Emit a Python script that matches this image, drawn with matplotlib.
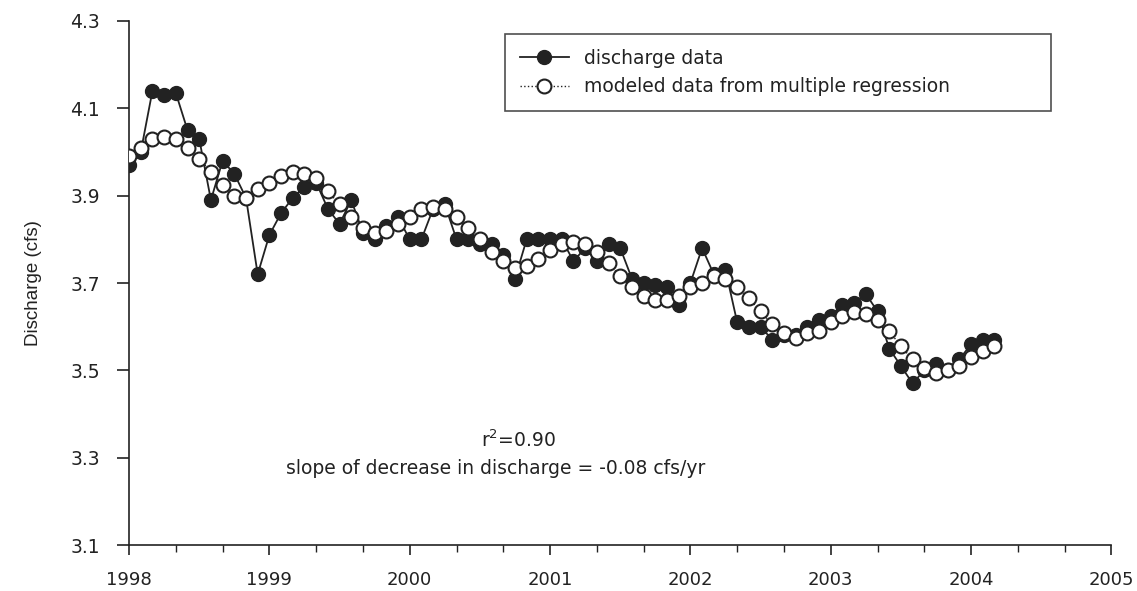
import matplotlib.pyplot as plt
import numpy as np

# datos mensuales, ene-1998 a mar-2004
discharge = [3.97, 4.00, 4.14, 4.13, 4.135, 4.05, 4.03, 3.89, 3.98, 3.95, 3.895, 3.72,
             3.81, 3.86, 3.895, 3.92, 3.93, 3.87, 3.835, 3.89, 3.815, 3.80, 3.83, 3.85,
             3.80, 3.80, 3.87, 3.88, 3.80, 3.80, 3.79, 3.79, 3.765, 3.71, 3.80, 3.80,
             3.80, 3.80, 3.75, 3.78, 3.75, 3.79, 3.78, 3.71, 3.70, 3.695, 3.69, 3.65,
             3.70, 3.78, 3.72, 3.73, 3.61, 3.60, 3.60, 3.57, 3.58, 3.58, 3.60, 3.615,
             3.625, 3.65, 3.655, 3.675, 3.635, 3.55, 3.51, 3.47, 3.50, 3.515, 3.50, 3.525,
             3.56, 3.57, 3.57]
modeled = [3.99, 4.01, 4.03, 4.035, 4.03, 4.01, 3.985, 3.955, 3.925, 3.90, 3.895, 3.915,
           3.93, 3.945, 3.955, 3.95, 3.94, 3.91, 3.88, 3.85, 3.825, 3.815, 3.82, 3.835,
           3.85, 3.87, 3.875, 3.87, 3.85, 3.825, 3.80, 3.77, 3.75, 3.735, 3.74, 3.755,
           3.775, 3.79, 3.795, 3.79, 3.77, 3.745, 3.715, 3.69, 3.67, 3.66, 3.66, 3.67,
           3.69, 3.70, 3.715, 3.71, 3.69, 3.665, 3.635, 3.605, 3.585, 3.575, 3.585, 3.59,
           3.61, 3.625, 3.633, 3.63, 3.615, 3.59, 3.555, 3.525, 3.505, 3.495, 3.50, 3.51,
           3.53, 3.545, 3.555]
start_year = 1998
year_ticks = [1998, 1999, 2000, 2001, 2002, 2003, 2004, 2005]
y_ticks = [3.1, 3.3, 3.5, 3.7, 3.9, 4.1, 4.3]

tt = start_year + np.arange(len(discharge)) / 12  # tiempo en años decimales

plt.rcParams['font.family'] = 'DejaVu Sans'

fig = plt.figure(figsize=(11.37, 5.91), dpi=100)
ax = fig.add_axes([0.1135, 0.0778, 0.864, 0.8867])

ax.plot(tt, discharge, color='#222222', lw=1.3, marker='o', ms=10,
        mfc='#222222', mec='#222222', label='discharge data', zorder=2)
ax.plot(tt, modeled, color='#222222', lw=1.0, ls=':', marker='o', ms=10,
        mfc='white', mec='#222222', mew=1.5,
        label='modeled data from multiple regression', zorder=3)

ax.set_xlim(1998, 2005)
ax.set_ylim(3.1, 4.3)
ax.set_xticks(year_ticks)
ax.set_xticklabels([str(y) for y in year_ticks])
ax.set_xticks(np.arange(1998, 2005.01, 1/3), minor=True)
ax.set_yticks(y_ticks)
ax.set_yticklabels(['{:.1f}'.format(v) for v in y_ticks])

for s in ['top', 'right']:
    ax.spines[s].set_visible(False)
for s in ['left', 'bottom']:
    ax.spines[s].set_linewidth(1.2)
    ax.spines[s].set_color('#222222')

ax.tick_params(axis='y', direction='out', length=9, width=1.2, pad=12,
               labelsize=13.5, colors='#222222')
ax.tick_params(axis='x', which='major', direction='out', length=7, width=1.2,
               pad=12, labelsize=13, colors='#222222')
ax.tick_params(axis='x', which='minor', direction='out', length=5, width=1.0,
               colors='#222222')

ax.set_ylabel('Discharge (cfs)', fontsize=13.5, family='Liberation Sans',
              color='#222222', labelpad=20)

# leyenda expandida al ancho del recuadro original
leg = ax.legend(loc='upper left', bbox_to_anchor=(0.373, 0.993, 0.575, 0.0),
                mode='expand', fontsize=13.5, frameon=True, fancybox=False,
                edgecolor='#222222', handlelength=2.6, borderpad=0.8,
                labelspacing=0.5)
leg.get_frame().set_linewidth(1.2)
for t in leg.get_texts():
    t.set_color('#222222')

ax.text(0.396, 0.200, 'r$^2$=0.90', transform=ax.transAxes, ha='center',
        va='center', fontsize=13.5, color='#222222')
ax.text(0.373, 0.146, 'slope of decrease in discharge = -0.08 cfs/yr',
        transform=ax.transAxes, ha='center', va='center', fontsize=13.5,
        color='#222222')

fig.savefig('out.png', dpi=100)
